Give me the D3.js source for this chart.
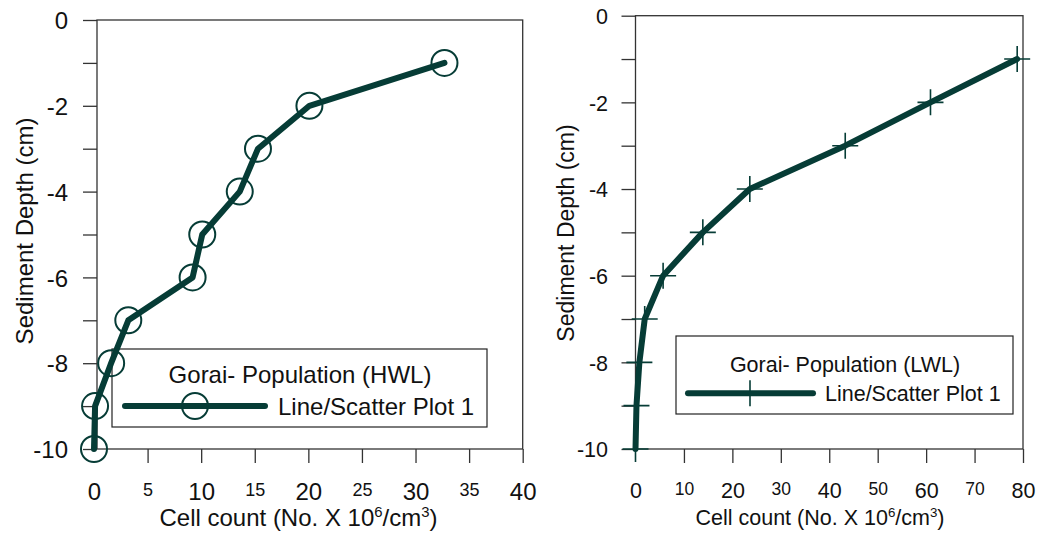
<!DOCTYPE html>
<html><head><meta charset="utf-8">
<script src="https://cdn.jsdelivr.net/npm/d3@7"></script>
<style>body{margin:0;background:#fff}svg{display:block}text{font-family:"Liberation Sans",Arial,sans-serif;fill:#111}</style>
</head><body>
<svg id="c" width="1039" height="533"></svg>
<script>
// ---- data ----
const depths = [-1, -2, -3, -4, -5, -6, -7, -8, -9, -10];
const hwlCounts = [32.7, 20.1, 15.3, 13.6, 10.1, 9.2, 3.2, 1.6, 0.1, 0];
const lwlCounts = [78.8, 60.9, 43.3, 23.6, 13.9, 5.7, 1.9, 0.8, 0.2, 0];
const yTickValues = [0, -1, -2, -3, -4, -5, -6, -7, -8, -9, -10];
const yLabelValues = [0, -2, -4, -6, -8, -10];
const hwlXTicks = [0, 5, 10, 15, 20, 25, 30, 35, 40];
const hwlMajor = [0, 10, 20, 30, 40];
const lwlXTicks = [0, 10, 20, 30, 40, 50, 60, 70, 80];
const lwlMajor = [0, 20, 40, 60, 80];
const legendTitles = ["Gorai- Population (HWL)", "Gorai- Population (LWL)"];
const seriesName = "Line/Scatter Plot 1";
const yTitle = "Sediment Depth (cm)";

// ---- styles / layout ----
const color = "#063c36";
const axisColor = "#333";
const svg = d3.select("#c");

const panels = [
  { counts: hwlCounts, ticks: hwlXTicks, major: hwlMajor, xmax: 40,
    xr: [94, 522.7], yr: [20, 449], frameLeft: 97, fs: 24, minorFs: 18, ylabPad: 15,
    marker: "circle", curve: d3.curveLinear,
    xTitle: [298.5, 526, 24], yTitle: [33, 231, 24],
    legend: { box: [112, 349, 487, 427], title: [300, 383], line: [125, 265, 406], mk: 195, text: [278, 415], title_i: 0 } },
  { counts: lwlCounts, ticks: lwlXTicks, major: lwlMajor, xmax: 80,
    xr: [635.5, 1023], yr: [15.7, 449], frameLeft: 635.5, fs: 21.5, minorFs: 17.5, ylabPad: 13.5,
    marker: "cross", curve: d3.curveLinear,
    xTitle: [820, 525, 21.5], yTitle: [574, 233, 23],
    legend: { box: [676, 336, 1013, 414], title: [845, 372], line: [688, 813, 393.3], mk: 750, text: [825, 401], title_i: 1 } }
];

function drawMarker(g, kind, cx, cy) {
  if (kind === "circle") {
    g.append("circle").attr("cx", cx).attr("cy", cy).attr("r", 13)
      .attr("fill", "none").attr("stroke", color).attr("stroke-width", 2);
  } else {
    g.append("path").attr("d", `M${cx-13},${cy}H${cx+13}M${cx},${cy-13}V${cy+13}`)
      .attr("fill", "none").attr("stroke", color).attr("stroke-width", 1.6);
  }
}

panels.forEach((p, i) => {
  const x = d3.scaleLinear().domain([0, p.xmax]).range(p.xr);
  const y = d3.scaleLinear().domain([0, -10]).range(p.yr);
  const g = svg.append("g");
  const L = p.frameLeft, R = x(p.xmax), T = y(0), B = y(-10);

  // frame
  g.append("rect").attr("x", L).attr("y", T).attr("width", R - L).attr("height", B - T)
    .attr("fill", "none").attr("stroke", axisColor).attr("stroke-width", 1.3);

  // y axis
  const ya = g.append("g").attr("transform", `translate(${L},0)`)
    .call(d3.axisLeft(y).tickValues(yTickValues).tickSize(14).tickSizeOuter(0)
      .tickPadding(p.ylabPad).tickFormat(d => yLabelValues.includes(d) ? String(d) : ""));
  ya.select(".domain").remove();
  ya.selectAll("line").attr("stroke", axisColor).attr("stroke-width", 1.3);
  ya.selectAll("text").attr("font-size", p.fs).attr("font-family", null).attr("dy", "0.36em");

  // x axis
  const xa = g.append("g").attr("transform", `translate(0,${B})`)
    .call(d3.axisBottom(x).tickValues(p.ticks).tickSize(14).tickSizeOuter(0)
      .tickPadding(20).tickFormat(d => String(d)));
  xa.select(".domain").remove();
  xa.selectAll("line").attr("stroke", axisColor).attr("stroke-width", 1.3)
    .attr("opacity", d => d === 0 ? 0 : 1);
  xa.selectAll("text").attr("font-family", null)
    .attr("font-size", d => p.major.includes(d) ? p.fs : p.minorFs);
  xa.selectAll(".tick").attr("fill", null);

  // x title
  const xt = g.append("text").attr("x", p.xTitle[0]).attr("y", p.xTitle[1])
    .attr("text-anchor", "middle").attr("font-size", p.xTitle[2]);
  xt.append("tspan").text("Cell count (No. X 10");
  xt.append("tspan").attr("font-size", "0.62em").attr("dy", "-0.62em").text("6");
  xt.append("tspan").attr("dy", "0.385em").text("/cm");
  xt.append("tspan").attr("font-size", "0.62em").attr("dy", "-0.62em").text("3");
  xt.append("tspan").attr("dy", "0.385em").text(")");

  // y title
  g.append("text").attr("transform", `translate(${p.yTitle[0]},${p.yTitle[1]}) rotate(-90)`)
    .attr("text-anchor", "middle").attr("font-size", p.yTitle[2]).text(yTitle);

  // legend
  const lg = p.legend;
  g.append("rect").attr("x", lg.box[0]).attr("y", lg.box[1])
    .attr("width", lg.box[2] - lg.box[0]).attr("height", lg.box[3] - lg.box[1])
    .attr("fill", "none").attr("stroke", "#222").attr("stroke-width", 1.2);
  g.append("text").attr("x", lg.title[0]).attr("y", lg.title[1]).attr("text-anchor", "middle")
    .attr("font-size", p.fs).text(legendTitles[lg.title_i]);
  g.append("line").attr("x1", lg.line[0]).attr("x2", lg.line[1]).attr("y1", lg.line[2]).attr("y2", lg.line[2])
    .attr("stroke", color).attr("stroke-width", 6).attr("stroke-linecap", "round");
  drawMarker(g, p.marker, lg.mk, lg.line[2]);
  g.append("text").attr("x", lg.text[0]).attr("y", lg.text[1]).attr("font-size", p.fs).text(seriesName);

  // data line
  const pts = depths.map((d, k) => [p.counts[k], d]);
  const line = d3.line().x(d => x(d[0])).y(d => y(d[1])).curve(p.curve);
  g.append("path").datum(pts).attr("d", line).attr("fill", "none")
    .attr("stroke", color).attr("stroke-width", 6)
    .attr("stroke-linejoin", "round").attr("stroke-linecap", "round");
  pts.forEach(d => drawMarker(g, p.marker, x(d[0]), y(d[1])));
});
</script>
</body></html>
